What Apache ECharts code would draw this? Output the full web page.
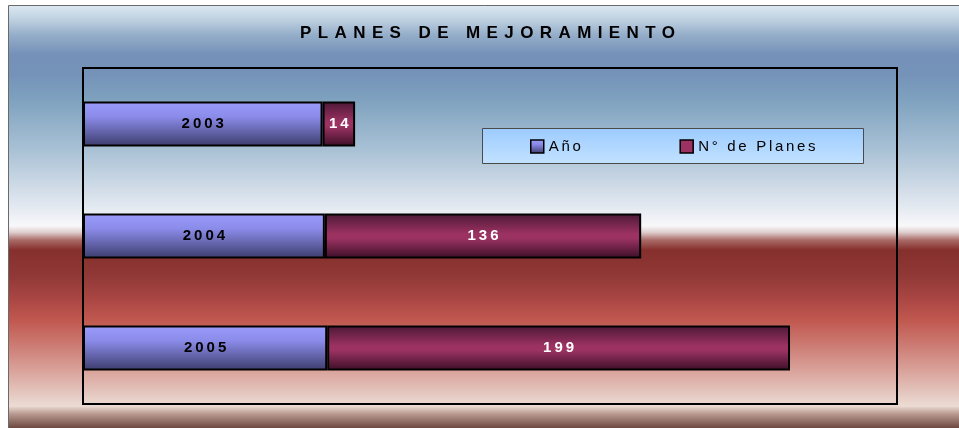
<!DOCTYPE html>
<html>
<head>
<meta charset="utf-8">
<script src="https://cdn.jsdelivr.net/npm/echarts@6/dist/echarts.min.js"></script>
<style>
html,body{margin:0;padding:0;background:#fff;}
#chart{width:959px;height:428px;}
</style>
</head>
<body>
<div id="chart"></div>
<script>
// ---- data ----
const categories = ['2003', '2004', '2005'];
const anoValues = [2003, 2004, 2005];
const planesValues = [14, 136, 199];
const seriesNames = ['Año', 'N° de Planes'];
const titleText = 'PLANES DE MEJORAMIENTO';

// letter spacing for canvas text (texts stay real)
(function () {
  const P = CanvasRenderingContext2D.prototype;
  const orig = P.fillText;
  P.fillText = function (t, x, y, w) {
    const f = this.font || '';
    let s = '0px';
    if (/17px/.test(f)) s = '6.4px';
    else if (/bold|700/.test(f)) s = '3px';
    else if (/15px/.test(f)) s = '2.7px';
    const prev = this.letterSpacing;
    try { this.letterSpacing = s; } catch (e) {}
    if (w === undefined) orig.call(this, t, x, y); else orig.call(this, t, x, y, w);
    try { this.letterSpacing = prev; } catch (e) {}
  };
})();

const FONT = '"Liberation Sans", Arial, sans-serif';
const chart = echarts.init(document.getElementById('chart'), null, { renderer: 'canvas' });

const bgGrad = {
  type: 'linear', x: 0, y: 6, x2: 0, y2: 428, global: true,
  colorStops: [
    [0, '#dbe7f1'], [0.033, '#bdd0e0'], [0.069, '#94adc8'], [0.116, '#7590b9'],
    [0.164, '#7593b9'], [0.223, '#7fa2bf'], [0.341, '#a9c1d5'], [0.436, '#d2dde8'],
    [0.495, '#eceff5'], [0.521, '#f8f8fa'], [0.536, '#e0cfcf'], [0.555, '#a86a66'],
    [0.578, '#86302e'], [0.637, '#8f3836'], [0.697, '#ab4744'], [0.744, '#c0584f'],
    [0.803, '#cc7b73'], [0.863, '#d9a29a'], [0.922, '#e5cac2'], [0.948, '#ecdcd4'],
    [0.967, '#b8988f'], [1, '#6c4840']
  ].map(s => ({ offset: s[0], color: s[1] }))
};

const anoGrad = new echarts.graphic.LinearGradient(0, 0, 0, 1, [
  { offset: 0, color: '#9c9cff' }, { offset: 0.35, color: '#8a8ae8' }, { offset: 1, color: '#3c3c6c' }
]);
const planesGrad = new echarts.graphic.LinearGradient(0, 0, 0, 1, [
  { offset: 0, color: '#4a1834' }, { offset: 0.45, color: '#9c3262' },
  { offset: 0.55, color: '#9c3262' }, { offset: 1, color: '#3a0f26' }
]);

chart.setOption({
  animation: false,
  title: {
    text: titleText, left: 300, top: 25, padding: 0,
    textStyle: { fontFamily: FONT, fontSize: 17, fontWeight: 'bold', color: '#000' }
  },
  graphic: [
    {
      type: 'rect', z: -10, silent: true,
      shape: { x: 8.5, y: 5.5, width: 960, height: 430 },
      style: { fill: bgGrad, stroke: '#6a6a6a', lineWidth: 1 }
    },
    {
      type: 'rect', z: 3, silent: true,
      shape: { x: 482.5, y: 128.5, width: 381, height: 35 },
      style: {
        fill: new echarts.graphic.LinearGradient(0, 0, 0, 1, [
          { offset: 0, color: '#9ccbff' }, { offset: 1, color: '#c3e2ff' }
        ]),
        stroke: '#4a4a4a', lineWidth: 1
      }
    }
  ],
  legend: {
    left: 530, top: 139, padding: 0, itemGap: 104,
    itemWidth: 13, itemHeight: 13, icon: 'rect',
    textStyle: { fontFamily: FONT, fontSize: 15, color: '#000' },
    data: [
      { name: seriesNames[0], itemStyle: { color: anoGrad, borderColor: '#000', borderWidth: 1.5 } },
      { name: seriesNames[1], itemStyle: { color: '#9c3262', borderColor: '#000', borderWidth: 1.5 } }
    ]
  },
  grid: {
    left: 83, right: 62, top: 68, bottom: 24, show: true,
    borderColor: '#000', borderWidth: 2, backgroundColor: 'transparent', containLabel: false
  },
  xAxis: {
    type: 'value', min: 1900, max: 2250, startValue: 1900, show: false
  },
  yAxis: {
    type: 'category', data: categories, inverse: true, show: false
  },
  series: [
    {
      name: seriesNames[0], type: 'bar', stack: 'total', data: anoValues, barWidth: 45,
      itemStyle: { color: anoGrad, borderColor: '#000', borderWidth: 2 },
      label: {
        show: true, position: 'inside', offset: [1.5, 0], color: '#000',
        fontFamily: FONT, fontSize: 15, fontWeight: 'bold', textBorderWidth: 0
      }
    },
    {
      name: seriesNames[1], type: 'bar', stack: 'total', data: planesValues, barWidth: 45,
      itemStyle: { color: planesGrad, borderColor: '#000', borderWidth: 2 },
      label: {
        show: true, position: 'inside', offset: [1.5, 0], color: '#fff',
        fontFamily: FONT, fontSize: 15, fontWeight: 'bold', textBorderWidth: 0
      }
    }
  ]
});
</script>
</body>
</html>
